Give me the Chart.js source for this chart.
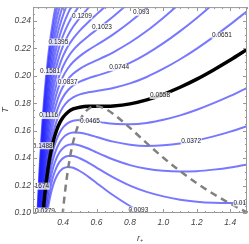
<!DOCTYPE html>
<html>
<head>
<meta charset="utf-8">
<script src="https://cdn.jsdelivr.net/npm/chart.js@4/dist/chart.umd.min.js"></script>
<style>
  html, body { margin: 0; padding: 0; background: #fff; }
  canvas { display: block; }
</style>
</head>
<body>
<canvas id="chart" width="249" height="244"></canvas>
<script>
// horizon radius samples shared by every isobar
const rValues = [0.23, 0.24, 0.25, 0.26, 0.27, 0.28, 0.29, 0.30, 0.32, 0.34, 0.36, 0.38, 0.40, 0.43, 0.46,
  0.50, 0.55, 0.60, 0.65, 0.70, 0.80, 0.90, 1.00, 1.10, 1.20, 1.30, 1.40, 1.50];

// temperature along each isobar (curves stop once they leave the top of the frame)
const T_0093 = [-0.0382, -0.0059, 0.0204, 0.0420, 0.0596, 0.0741, 0.0860, 0.0958, 0.1104, 0.1201, 0.1264, 0.1303, 0.1325, 0.1336, 0.1330, 0.1306, 0.1265, 0.1219, 0.1173, 0.1129, 0.1051, 0.0987, 0.0935, 0.0893, 0.0859, 0.0833, 0.0812, 0.0796];
const T_0186 = [-0.0340, -0.0014, 0.0251, 0.0468, 0.0646, 0.0793, 0.0914, 0.1014, 0.1163, 0.1264, 0.1331, 0.1374, 0.1400, 0.1416, 0.1416, 0.1399, 0.1367, 0.1331, 0.1294, 0.1260, 0.1200, 0.1154, 0.1121, 0.1097, 0.1082, 0.1074, 0.1072, 0.1075];
const T_0279 = [-0.0297, 0.0030, 0.0297, 0.0516, 0.0697, 0.0845, 0.0968, 0.1069, 0.1223, 0.1328, 0.1398, 0.1445, 0.1474, 0.1496, 0.1501, 0.1492, 0.1470, 0.1442, 0.1415, 0.1390, 0.1349, 0.1322, 0.1307, 0.1302, 0.1305, 0.1316, 0.1332, 0.1354];
const T_0372 = [-0.0254, 0.0075, 0.0344, 0.0565, 0.0747, 0.0897, 0.1022, 0.1125, 0.1282, 0.1391, 0.1465, 0.1515, 0.1549, 0.1576, 0.1587, 0.1585, 0.1572, 0.1554, 0.1536, 0.1520, 0.1498, 0.1489, 0.1493, 0.1506, 0.1529, 0.1558, 0.1593, 0.1633];
const T_0465 = [-0.0211, 0.0120, 0.0390, 0.0613, 0.0797, 0.0949, 0.1076, 0.1181, 0.1342, 0.1454, 0.1532, 0.1586, 0.1623, 0.1656, 0.1672, 0.1678, 0.1674, 0.1666, 0.1657, 0.1650, 0.1647, 0.1656, 0.1679, 0.1711, 0.1752, 0.1800, 0.1853, 0.1912];
const T_0558 = [-0.0168, 0.0164, 0.0437, 0.0662, 0.0847, 0.1001, 0.1130, 0.1237, 0.1401, 0.1517, 0.1599, 0.1657, 0.1697, 0.1736, 0.1758, 0.1771, 0.1777, 0.1777, 0.1778, 0.1780, 0.1795, 0.1824, 0.1865, 0.1916, 0.1975, 0.2042, 0.2114, 0.2191];
const T_0651 = [-0.0126, 0.0209, 0.0483, 0.0710, 0.0897, 0.1053, 0.1184, 0.1293, 0.1461, 0.1581, 0.1666, 0.1728, 0.1772, 0.1816, 0.1843, 0.1864, 0.1879, 0.1889, 0.1899, 0.1911, 0.1944, 0.1991, 0.2051, 0.2120, 0.2198, 0.2283, 0.2374, 0.2470];
const T_0744 = [-0.0083, 0.0254, 0.0530, 0.0758, 0.0948, 0.1105, 0.1237, 0.1348, 0.1521, 0.1644, 0.1733, 0.1798, 0.1846, 0.1896, 0.1929, 0.1957, 0.1981, 0.2000, 0.2019, 0.2041, 0.2093, 0.2159, 0.2237, 0.2325, 0.2421, 0.2525, 0.2634];
const T_0837 = [-0.0040, 0.0298, 0.0576, 0.0807, 0.0998, 0.1158, 0.1291, 0.1404, 0.1580, 0.1707, 0.1800, 0.1869, 0.1921, 0.1976, 0.2014, 0.2050, 0.2084, 0.2112, 0.2140, 0.2171, 0.2242, 0.2326, 0.2423, 0.2529, 0.2645];
const T_0930 = [0.0003, 0.0343, 0.0623, 0.0855, 0.1048, 0.1210, 0.1345, 0.1460, 0.1640, 0.1770, 0.1867, 0.1940, 0.1995, 0.2056, 0.2100, 0.2143, 0.2186, 0.2224, 0.2261, 0.2301, 0.2391, 0.2493, 0.2609, 0.2734];
const T_1023 = [0.0046, 0.0387, 0.0669, 0.0903, 0.1098, 0.1262, 0.1399, 0.1516, 0.1699, 0.1834, 0.1934, 0.2010, 0.2069, 0.2136, 0.2186, 0.2236, 0.2288, 0.2335, 0.2382, 0.2431, 0.2539, 0.2661];
const T_1116 = [0.0088, 0.0432, 0.0716, 0.0952, 0.1148, 0.1314, 0.1453, 0.1572, 0.1759, 0.1897, 0.2001, 0.2081, 0.2144, 0.2216, 0.2271, 0.2329, 0.2390, 0.2447, 0.2503, 0.2562];
const T_1209 = [0.0131, 0.0477, 0.0762, 0.1000, 0.1199, 0.1366, 0.1507, 0.1627, 0.1818, 0.1960, 0.2068, 0.2152, 0.2218, 0.2296, 0.2357, 0.2422, 0.2493, 0.2558, 0.2624];
const T_1302 = [0.0174, 0.0521, 0.0809, 0.1048, 0.1249, 0.1418, 0.1561, 0.1683, 0.1878, 0.2023, 0.2135, 0.2222, 0.2293, 0.2376, 0.2442, 0.2515, 0.2595];
const T_1395 = [0.0217, 0.0566, 0.0855, 0.1097, 0.1299, 0.1470, 0.1615, 0.1739, 0.1937, 0.2087, 0.2202, 0.2293, 0.2367, 0.2456, 0.2528, 0.2608];
const T_1488 = [0.0259, 0.0611, 0.0902, 0.1145, 0.1349, 0.1522, 0.1669, 0.1795, 0.1997, 0.2150, 0.2269, 0.2364, 0.2441, 0.2536, 0.2613];
const T_1581 = [0.0302, 0.0655, 0.0948, 0.1193, 0.1400, 0.1574, 0.1723, 0.1851, 0.2056, 0.2213, 0.2336, 0.2434, 0.2516, 0.2616];
const T_1674 = [0.0345, 0.0700, 0.0995, 0.1242, 0.1450, 0.1626, 0.1777, 0.1906, 0.2116, 0.2276, 0.2403, 0.2505, 0.2590];
const T_1767 = [0.0388, 0.0745, 0.1041, 0.1290, 0.1500, 0.1678, 0.1831, 0.1962, 0.2175, 0.2340, 0.2470, 0.2576, 0.2665];
const T_1860 = [0.0431, 0.0789, 0.1088, 0.1339, 0.1550, 0.1730, 0.1885, 0.2018, 0.2235, 0.2403, 0.2537, 0.2646];

// dashed curve through the extrema of the isobars
const rExtrema = [0.39, 0.40, 0.42, 0.45, 0.50, 0.55, 0.60, 0.65, 0.70, 0.80, 0.90, 1.00, 1.10, 1.20, 1.30, 1.40, 1.50];
const tExtrema = [0.0893, 0.1024, 0.1237, 0.1462, 0.1670, 0.1757, 0.1777, 0.1760, 0.1722, 0.1620, 0.1509, 0.1402, 0.1305, 0.1217, 0.1138, 0.1068, 0.1005];

// contour labels: text, r, T
const contourLabels = [
  ['0.1209', 0.513, 0.2437], ['0.1023', 0.633, 0.2357], ['0.093', 0.867, 0.2462],
  ['0.0651', 1.350, 0.2295], ['0.1395', 0.372, 0.2245], ['0.1581', 0.322, 0.2031],
  ['0.0837', 0.427, 0.1955], ['0.0744', 0.735, 0.2059], ['0.0558', 0.980, 0.1856],
  ['0.1116', 0.314, 0.1710], ['0.0465', 0.561, 0.1672], ['0.1488', 0.278, 0.1490],
  ['0.1674', 0.257, 0.1195], ['0.0372', 1.166, 0.1521], ['0.0186', 1.478, 0.1074],
  ['0.0093', 0.850, 0.1021], ['0.186', 0.240, 0.1013], ['0.0279', 0.292, 0.1013]
];

const xTicks = [0.4, 0.6, 0.8, 1.0, 1.2, 1.4];
const yTicks = [0.10, 0.12, 0.14, 0.16, 0.18, 0.20, 0.22, 0.24];

const blueIsobars = [T_0093, T_0186, T_0279, T_0372, T_0465, T_0651, T_0744, T_0837, T_0930, T_1023,
  T_1116, T_1209, T_1302, T_1395, T_1488, T_1581, T_1674, T_1767, T_1860];

const toPoints = ts => ts.map((t, i) => ({ x: rValues[i], y: t }));

const datasets = [
  {
    data: rExtrema.map((r, i) => ({ x: r, y: tExtrema[i] })),
    borderColor: '#808080', borderWidth: 2.5, borderDash: [7, 5], order: 0
  },
  { data: toPoints(T_0558), borderColor: '#000', borderWidth: 3.5, order: 1 },
  ...blueIsobars.map(ts => ({
    data: toPoints(ts), borderColor: 'rgba(30, 30, 255, 0.6)', borderWidth: 2, order: 2
  }))
];

const tickFont = { family: '"Liberation Sans", Arial, sans-serif', size: 8.5, style: 'italic' };

// Mathematica-style frame: thin gray box, ticks pointing inward on all four sides
const framePlugin = {
  id: 'frame',
  afterDatasetsDraw(chart) {
    const { ctx, chartArea: a, scales: { x, y } } = chart;
    ctx.save();
    ctx.beginPath();
    ctx.rect(a.left, a.top, a.right - a.left, a.bottom - a.top);
    ctx.clip();
    ctx.font = '6.5px "Liberation Sans", Arial, sans-serif';
    ctx.textAlign = 'center';
    ctx.textBaseline = 'middle';
    contourLabels.forEach(([txt, r, t]) => {
      const px = x.getPixelForValue(r);
      const py = y.getPixelForValue(t);
      const w = ctx.measureText(txt).width;
      ctx.fillStyle = 'rgba(255,255,255,0.8)';
      ctx.fillRect(px - w / 2 - 0.5, py - 3.5, w + 1, 7);
      ctx.fillStyle = '#222';
      ctx.fillText(txt, px, py);
    });
    ctx.restore();
  },
  afterDraw(chart) {
    const { ctx, chartArea: a, scales: { x, y } } = chart;
    ctx.save();
    ctx.strokeStyle = '#999';
    ctx.lineWidth = 1;
    ctx.strokeRect(a.left + 0.5, a.top + 0.5, a.right - a.left - 1, a.bottom - a.top - 1);
    ctx.beginPath();
    const xTick = (v, len) => {
      const px = Math.round(x.getPixelForValue(v)) + 0.5;
      ctx.moveTo(px, a.bottom); ctx.lineTo(px, a.bottom - len);
      ctx.moveTo(px, a.top); ctx.lineTo(px, a.top + len);
    };
    const yTick = (v, len) => {
      const py = Math.round(y.getPixelForValue(v)) + 0.5;
      ctx.moveTo(a.left, py); ctx.lineTo(a.left + len, py);
      ctx.moveTo(a.right, py); ctx.lineTo(a.right - len, py);
    };
    for (let v = 0.25; v <= 1.501; v += 0.05) xTick(v, 2);
    xTicks.forEach(v => xTick(v, 4));
    for (let v = 0.105; v <= 0.2501; v += 0.005) yTick(v, 2);
    yTicks.forEach(v => yTick(v, 4));
    ctx.stroke();
    ctx.restore();
  }
};

new Chart(document.getElementById('chart'), {
  type: 'line',
  data: { datasets },
  options: {
    responsive: false,
    animation: false,
    devicePixelRatio: 1,
    layout: { padding: { top: 2, right: 2, left: 0, bottom: 0 } },
    elements: { point: { radius: 0 }, line: { cubicInterpolationMode: 'monotone' } },
    datasets: { line: { clip: 0 } },
    plugins: { legend: { display: false }, tooltip: { enabled: false } },
    scales: {
      x: {
        type: 'linear', min: 0.22, max: 1.5,
        afterFit: s => { s.height = 31; },
        afterBuildTicks: s => { s.ticks = xTicks.map(v => ({ value: v })); },
        grid: { display: false, drawTicks: false },
        border: { display: false },
        ticks: { autoSkip: false, maxRotation: 0, padding: 5, color: '#444', font: tickFont,
          callback: v => v.toFixed(1) },
        title: { display: true, text: 'r₊', color: '#444', padding: { top: 0, bottom: 0 },
          font: { family: '"Liberation Sans", Arial, sans-serif', size: 9, style: 'italic' } }
      },
      y: {
        type: 'linear', min: 0.1, max: 0.25,
        afterFit: s => { s.width = 33; },
        afterBuildTicks: s => { s.ticks = yTicks.map(v => ({ value: v })); },
        grid: { display: false, drawTicks: false },
        border: { display: false },
        ticks: { autoSkip: false, padding: 2, color: '#444', font: tickFont,
          callback: v => v.toFixed(2) },
        title: { display: true, text: 'T', color: '#444', padding: { top: 0, bottom: 0 },
          font: { family: '"Liberation Sans", Arial, sans-serif', size: 9, style: 'italic' } }
      }
    }
  },
  plugins: [framePlugin]
});
</script>
</body>
</html>
